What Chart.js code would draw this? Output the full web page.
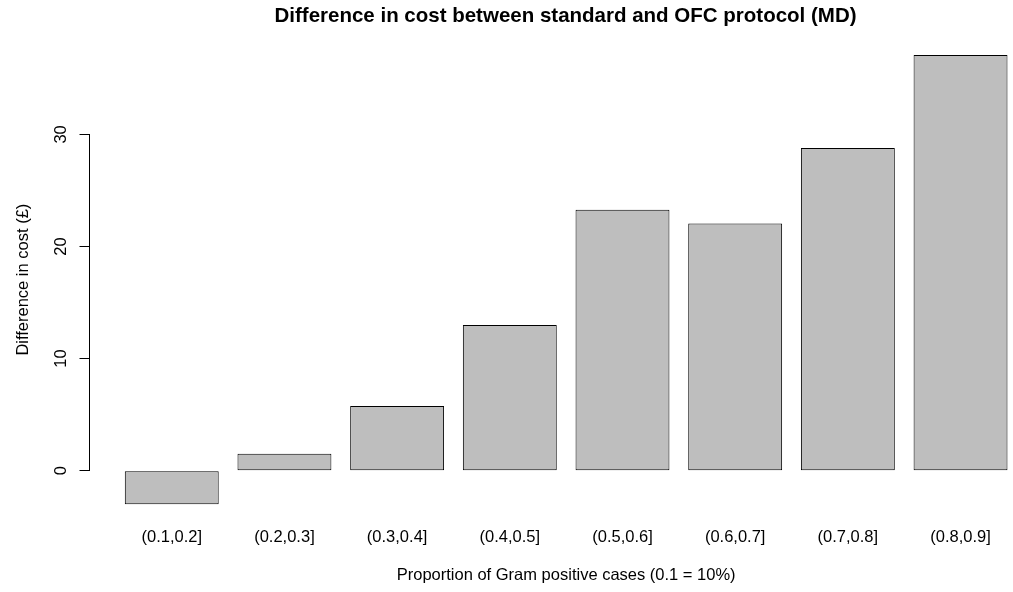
<!DOCTYPE html>
<html>
<head>
<meta charset="utf-8">
<script src="https://cdn.jsdelivr.net/npm/chart.js@4/dist/chart.umd.min.js"></script>
<style>
  html, body { margin: 0; padding: 0; background: #fff; overflow: hidden; }
  #wrap { width: 1013px; height: 592px; overflow: hidden; position: relative; }
  canvas { display: block; }
</style>
</head>
<body>
<div id="wrap"><canvas id="c" width="1131" height="592"></canvas></div>
<script>
// ---- data ----
const categories = ['(0.1,0.2]', '(0.2,0.3]', '(0.3,0.4]', '(0.4,0.5]', '(0.5,0.6]', '(0.6,0.7]', '(0.7,0.8]', '(0.8,0.9]'];
const costDifference = [-3.0, 1.52, 5.78, 13.0, 23.28, 22.05, 28.79, 37.09];
const yTickValues = [0, 10, 20, 30];
const chartTitle = 'Difference in cost between standard and OFC protocol (MD)';
const xAxisTitle = 'Proportion of Gram positive cases (0.1 = 10%)';
const yAxisTitle = 'Difference in cost (\u00A3)';

// ---- layout in R barplot units (width 1, space 0.2) ----
const barSpace = 0.2, barWidth = 1;
const centers = categories.map((_, i) => barSpace + barWidth / 2 + i * (barWidth + barSpace));
const xLo = barSpace, xHi = categories.length * (barWidth + barSpace);
const xPad = (xHi - xLo) * 0.04;
const yMinV = Math.min(0, ...costDifference), yMaxV = Math.max(0, ...costDifference);
const yPad = (yMaxV - yMinV) * 0.04;

const FONT = "'Liberation Sans', Arial, Helvetica, sans-serif";

const rAxisPlugin = {
  id: 'rAxis',
  afterDraw(chart) {
    const y = chart.scales.y;
    const ctx = chart.ctx;
    const x0 = Math.round(y.right) - 0.5;
    ctx.save();
    ctx.strokeStyle = '#000';
    ctx.lineWidth = 1;
    ctx.beginPath();
    ctx.moveTo(x0, y.getPixelForValue(yTickValues[0]));
    ctx.lineTo(x0, y.getPixelForValue(yTickValues[yTickValues.length - 1]));
    ctx.stroke();
    ctx.fillStyle = '#000';
    ctx.font = '16.5px ' + FONT;
    ctx.textAlign = 'center';
    ctx.textBaseline = 'middle';
    y.ticks.forEach(t => {
      const py = y.getPixelForValue(t.value);
      ctx.save();
      ctx.translate(y.right - 28.5, py);
      ctx.rotate(-Math.PI / 2);
      ctx.fillText(String(t.value), 0, 0);
      ctx.restore();
    });
    ctx.restore();
  }
};

new Chart(document.getElementById('c'), {
  type: 'bar',
  data: {
    datasets: [{
      data: costDifference.map((v, i) => ({ x: centers[i], y: v })),
      backgroundColor: '#BEBEBE',
      borderColor: '#000',
      borderWidth: 1,
      borderSkipped: false,
      barPercentage: barWidth / (barWidth + barSpace),
      categoryPercentage: 1
    }]
  },
  options: {
    responsive: false,
    animation: false,
    layout: { padding: 0 },
    plugins: {
      legend: { display: false },
      tooltip: { enabled: false },
      title: {
        display: true,
        text: chartTitle,
        color: '#000',
        font: { family: FONT, size: 20.5, weight: 'bold' },
        padding: { top: 3.7, bottom: 8.7 }
      }
    },
    scales: {
      x: {
        type: 'linear',
        offset: false,
        min: xLo - xPad,
        max: xHi + xPad,
        grid: { display: false, drawTicks: false, offset: false },
        border: { display: false },
        afterBuildTicks(scale) { scale.ticks = centers.map(v => ({ value: v })); },
        afterFit(scale) { scale.height = 69.7; },
        ticks: {
          autoSkip: false,
          maxRotation: 0,
          minRotation: 0,
          padding: 4.8,
          color: '#000',
          font: { family: FONT, size: 16.5 },
          callback: (v, i) => categories[i]
        },
        title: {
          display: true,
          text: xAxisTitle,
          color: '#000',
          font: { family: FONT, size: 16.5 },
          padding: { top: 0, bottom: 7.1 }
        }
      },
      y: {
        min: yMinV - yPad,
        max: yMaxV + yPad,
        afterBuildTicks(scale) { scale.ticks = yTickValues.map(v => ({ value: v })); },
        afterFit(scale) { scale.width = 89.5; },
        border: { display: false },
        grid: {
          display: true,
          drawOnChartArea: false,
          drawTicks: true,
          tickLength: 10,
          color: '#000',
          lineWidth: 1
        },
        ticks: { display: false },
        title: {
          display: true,
          text: yAxisTitle,
          color: '#000',
          font: { family: FONT, size: 16.5 },
          padding: { top: 13.1, bottom: 0 }
        }
      },
      rightMargin: {
        type: 'linear',
        position: 'right',
        display: true,
        grid: { display: false, drawTicks: false },
        border: { display: false },
        ticks: { display: false },
        afterFit(scale) { scale.width = 88.2; }
      }
    }
  },
  plugins: [rAxisPlugin]
});
</script>
</body>
</html>
